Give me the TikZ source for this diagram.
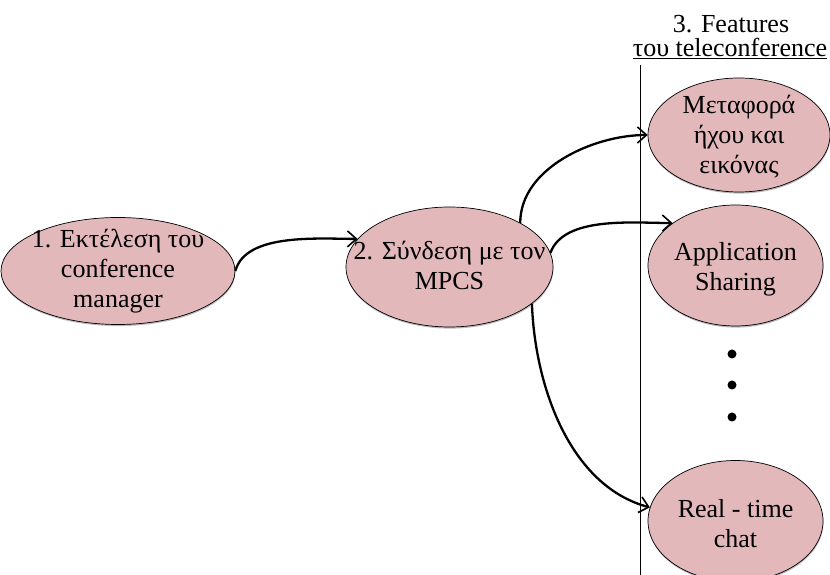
\documentclass[tikz,border=0pt]{standalone}
\usepackage{fontspec}
\setmainfont{Liberation Serif}
\usetikzlibrary{shapes.geometric,shadows,arrows.meta}
\definecolor{ellfill}{RGB}{226,184,187}
\tikzset{
  ell/.style={ellipse, draw=black, line width=0.7pt, fill=ellfill, inner sep=0pt,
    drop shadow={shadow xshift=0.4pt, shadow yshift=-1.6pt, opacity=0.45, fill=black!60}},
  txt/.style={align=center, font=\fontsize{26}{30}\selectfont, inner sep=0pt},
  arr/.style={line width=2.3pt, -{Straight Barb[length=9pt,width=16pt,line width=1.6pt]}},
  dotmark/.style={circle, fill=black, inner sep=0pt, minimum size=9pt}
}
\begin{document}
\begin{tikzpicture}[x=1pt,y=1pt]
\useasboundingbox (0,0) rectangle (830,575);
% separator line
\coordinate (ltop) at (640,510);
\coordinate (lbot) at (640,0);
\draw[line width=0.8pt] (ltop) -- (lbot);
% title
\node[txt, anchor=base] (t1) at (731,542) {3. Features};
\node[txt, anchor=base] (t2) at (730,518) {\underline{του teleconference}};
% ellipses
\node[ell, minimum width=234pt, minimum height=107pt] (e1) at (118,304) {};
\node[txt] at ([yshift=0pt]e1.center) {1. Εκτέλεση του\\conference\\manager};
\node[ell, minimum width=207pt, minimum height=120pt] (e2) at (449.5,308) {};
\node[txt] at ([yshift=2pt]e2.center) {2. Σύνδεση με τον\\MPCS};
\node[ell, minimum width=182pt, minimum height=114pt] (e3) at (739,440) {};
\node[txt] at ([yshift=-2pt]e3.center) {Μεταφορά\\ήχου και\\εικόνας};
\node[ell, minimum width=175pt, minimum height=121pt] (e4) at (735.5,309.5) {};
\node[txt] at ([yshift=-4pt]e4.center) {Application\\Sharing};
\node[ell, minimum width=175pt, minimum height=121pt] (e5) at (735.5,54) {};
\node[txt] at ([yshift=-3pt]e5.center) {Real - time\\chat};
% dots
\node[dotmark] (d1) at (732,221) {};
\node[dotmark] (d2) at (732,190) {};
\node[dotmark] (d3) at (732,158) {};
% arrows
\draw[arr] (e1.east) to[out=75,in=180,looseness=0.8] (e2.163);
\draw[arr] (e2.32) to[out=90,in=180,looseness=0.9] (e3.west);
\draw[arr] (e2.8) to[out=70,in=180,looseness=0.8] (e4.146);
\draw[arr] (e2.-24) to[out=-88,in=165,looseness=0.9] (e5.171);
\end{tikzpicture}
\end{document}
